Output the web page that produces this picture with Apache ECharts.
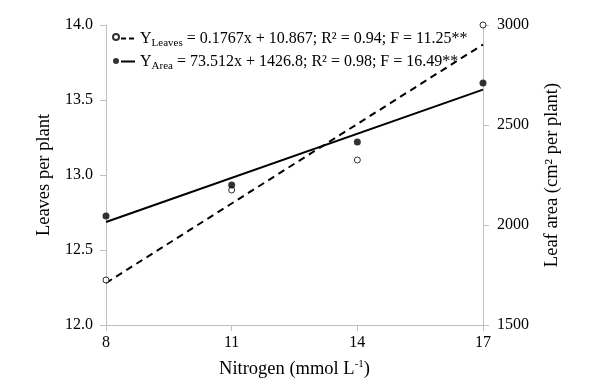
<!DOCTYPE html>
<html>
<head>
<meta charset="utf-8">
<script src="https://cdn.jsdelivr.net/npm/echarts@6/dist/echarts.min.js"></script>
<style>html,body{margin:0;padding:0;background:#fff}#c{width:600px;height:389px}</style>
</head>
<body>
<div id="c"></div>
<script>
// ---- data ----
const nitrogen = [8, 11, 14, 17];
const leaves = [12.3, 12.9, 13.1, 14.0];
const area = [2045, 2200, 2415, 2710];
const trendX = [8, 17];
const leavesTrend = [12.28, 13.87];
const areaTrend = [2015, 2677];
const xTicks = [8, 11, 14, 17];
const leavesTicks = [12.0, 12.5, 13.0, 13.5, 14.0];
const areaTicks = [1500, 2000, 2500, 3000];
const legendNames = ['Leaves', 'Area'];
const legendTexts = [
  'Y{s|Leaves} = 0.1767x + 10.867; R² = 0.94; F = 11.25**',
  'Y{s|Area} = 73.512x + 1426.8; R² = 0.98; F = 16.49**'
];

const font = 'Liberation Serif';
const gray = '#bfbfbf';

const chart = echarts.init(document.getElementById('c'));
const pairs = (xs, ys) => xs.map((x, i) => [x, ys[i]]);

chart.setOption({
  animation: false,
  backgroundColor: '#fff',
  grid: { left: 106, right: 117, top: 25, bottom: 64 },
  legend: [
    {
      data: ['Leaves points', 'Area points'],
      orient: 'vertical', left: 107, top: 28,
      itemWidth: 6, itemHeight: 6, itemGap: 17,
      formatter: () => '',
      textStyle: { fontSize: 1 },
      selectedMode: false
    },
    {
      data: [
        { name: legendNames[0], lineStyle: { type: [5, 3], width: 2 } },
        { name: legendNames[1], lineStyle: { type: 'solid', width: 2 } }
      ],
      orient: 'vertical', left: 115, top: 23,
      itemWidth: 14, itemHeight: 8, itemGap: 2,
      itemStyle: { opacity: 0 },
      selectedMode: false,
      formatter: name => legendTexts[legendNames.indexOf(name)],
      textStyle: {
        fontFamily: font, fontSize: 16, color: '#000', lineHeight: 21,
        rich: {
          s: { fontFamily: font, fontSize: 11, color: '#000', lineHeight: 21, verticalAlign: 'bottom', padding: [8, 0, 0, 0] }
        }
      }
    }
  ],
  xAxis: {
    type: 'value', min: 8, max: 17, interval: 3,
    name: 'Nitrogen (mmol L{sup|-1})', nameLocation: 'middle', nameGap: 34,
    nameTextStyle: { fontFamily: font, fontSize: 18.5, color: '#000',
      rich: { sup: { fontFamily: font, fontSize: 11, color: '#000', verticalAlign: 'top', padding: [0, 0, 9, 0] } } },
    axisLine: { show: true, lineStyle: { color: gray, width: 1 } },
    axisTick: { show: true, length: 6, lineStyle: { color: gray } },
    axisLabel: { fontFamily: font, fontSize: 16, color: '#000', margin: 10,
      customValues: xTicks },
    splitLine: { show: false }
  },
  yAxis: [
    {
      type: 'value', min: 12, max: 14, interval: 0.5, position: 'left',
      name: 'Leaves per plant', nameLocation: 'middle', nameGap: 46,
      nameTextStyle: { fontFamily: font, fontSize: 18.5, color: '#000' },
      axisLine: { show: true, lineStyle: { color: gray, width: 1 } },
      axisTick: { show: true, length: 6, lineStyle: { color: gray } },
      axisLabel: { fontFamily: font, fontSize: 16, color: '#000', margin: 13,
        formatter: v => v.toFixed(1) },
      splitLine: { show: false }
    },
    {
      type: 'value', min: 1500, max: 3000, interval: 500, position: 'right',
      name: 'Leaf area (cm² per plant)', nameLocation: 'middle', nameGap: 60,
      nameTextStyle: { fontFamily: font, fontSize: 18.5, color: '#000' },
      axisLine: { show: true, lineStyle: { color: gray, width: 1 } },
      axisTick: { show: true, length: 6, lineStyle: { color: gray } },
      axisLabel: { fontFamily: font, fontSize: 16, color: '#000', margin: 14,
        formatter: v => String(v) },
      splitLine: { show: false }
    }
  ],
  series: [
    {
      name: 'Leaves', type: 'line', yAxisIndex: 0, symbol: 'none',
      data: pairs(trendX, leavesTrend),
      lineStyle: { color: '#000', width: 2, type: [7, 5] },
      itemStyle: { color: '#000' }, z: 2
    },
    {
      name: 'Area', type: 'line', yAxisIndex: 1, symbol: 'none',
      data: pairs(trendX, areaTrend),
      lineStyle: { color: '#000', width: 2, type: 'solid' },
      itemStyle: { color: '#000' }, z: 2
    },
    {
      name: 'Leaves points', type: 'scatter', yAxisIndex: 0, symbol: 'circle', symbolSize: 6,
      data: pairs(nitrogen, leaves),
      itemStyle: { color: '#fff', borderColor: '#000', borderWidth: 1 }, z: 5
    },
    {
      name: 'Area points', type: 'scatter', yAxisIndex: 1, symbol: 'circle', symbolSize: 7,
      data: pairs(nitrogen, area),
      itemStyle: { color: '#000', borderColor: '#000', borderWidth: 0 }, z: 5
    }
  ]
});
</script>
</body>
</html>
